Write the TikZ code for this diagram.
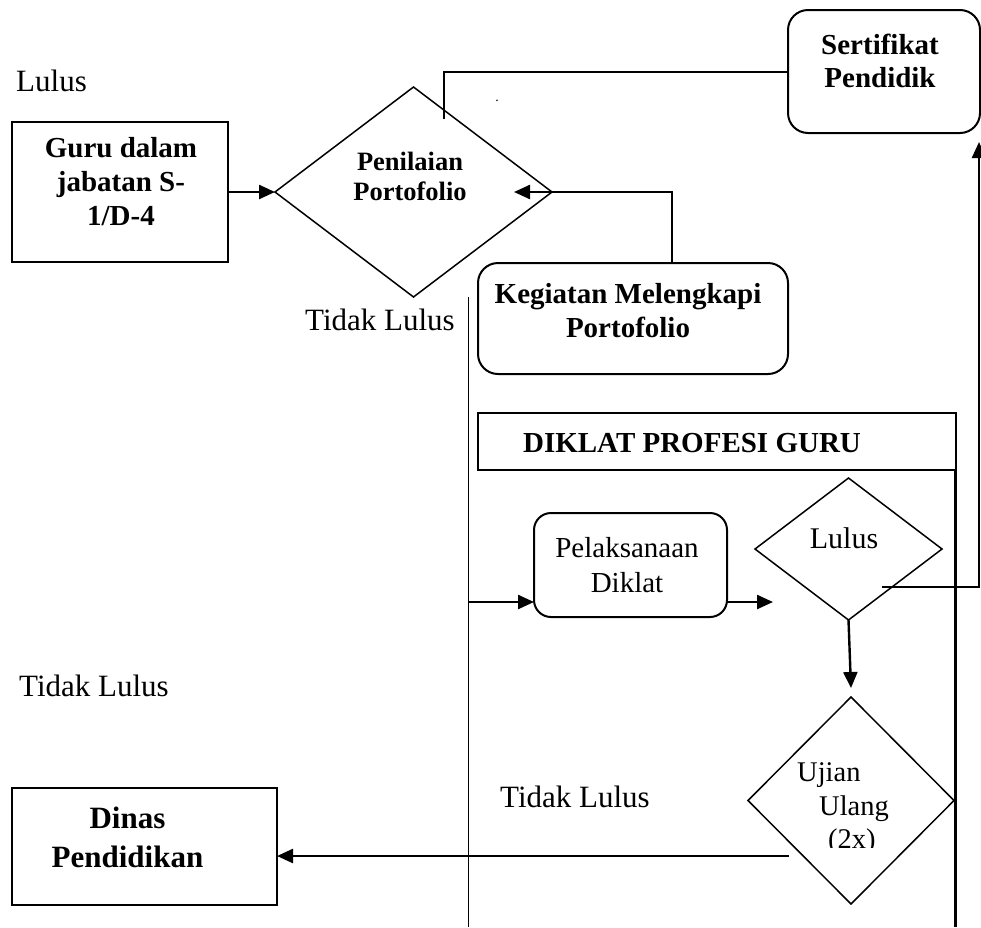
\documentclass[tikz,border=0pt]{standalone}
\usepackage{fontspec}
\setmainfont{Liberation Serif}
\usetikzlibrary{arrows.meta,shapes.geometric,calc}
\begin{document}
\begin{tikzpicture}[x=1pt,y=-1pt,
  box/.style={draw, line width=2pt, rectangle, inner sep=0pt, outer sep=0pt},
  rbox/.style={box, rounded corners=20pt},
  dia/.style={draw, diamond, line width=1.5pt, inner sep=0pt, outer sep=0pt},
  txt/.style={inner sep=0pt, align=center},
  lab/.style={inner sep=0pt, font=\fontsize{31}{36}\selectfont},
  conn/.style={line width=2pt},
  arr/.style={line width=2.4pt, -{Triangle[length=16pt,width=14pt]}},
  fB/.style={font=\fontsize{29}{34}\selectfont\bfseries},
  fR/.style={font=\fontsize{29}{35}\selectfont}
]
\useasboundingbox (0,0) rectangle (981,927);

% shapes
\node[box, minimum width=216pt, minimum height=140pt] (guru) at (120,192) {};
\node[txt, fB] (guruT) at (121,182) {Guru dalam\\jabatan S-\\1/D-4};

\node[dia, minimum width=277pt, minimum height=210pt] (pen) at (413.5,192) {};
\node[txt, font=\fontsize{26.5}{30}\selectfont\bfseries] (penT) at (410,176) {Penilaian\\Portofolio};

\node[rbox, minimum width=192pt, minimum height=123pt] (sert) at (884,71.5) {};
\node[txt, font=\fontsize{29}{33}\selectfont\bfseries] (sertT) at (880,61) {Sertifikat\\Pendidik};

\node[rbox, minimum width=310pt, minimum height=111pt] (keg) at (633,318.5) {};
\node[txt, fB] (kegT) at (628,311) {Kegiatan Melengkapi\\Portofolio};

\node[box, minimum width=477.5pt, minimum height=57pt] (dik) at (716.75,441.5) {};
\node[txt, fB, anchor=base] (dikT) at (692,452) {DIKLAT PROFESI GURU};

\node[rbox, rounded corners=17pt, minimum width=193pt, minimum height=104pt] (pel) at (630.5,565) {};
\node[txt, fR] (pelT) at (627,565) {Pelaksanaan\\Diklat};

\node[dia, minimum width=187pt, minimum height=142pt] (lul) at (848.5,549) {};
\node[txt, font=\fontsize{30}{35}\selectfont, anchor=base] (lulT) at (844,548) {Lulus};

\node[dia, minimum width=206pt, minimum height=207pt] (uj) at (851,800.5) {};
\begin{scope}
  \clip (780,740) rectangle (910,847.5);
  \node[txt, font=\fontsize{28.5}{33}\selectfont, anchor=base west] (uj1) at (797,781.7) {Ujian};
  \node[txt, font=\fontsize{28.5}{33}\selectfont, anchor=base west] (uj2) at (819,815) {Ulang};
  \node[txt, font=\fontsize{28.5}{33}\selectfont, anchor=base west] (uj3) at (828,848) {(2x)};
\end{scope}

\node[box, minimum width=265pt, minimum height=117pt] (din) at (144.5,846.5) {};
\node[txt, font=\fontsize{31}{39}\selectfont\bfseries] (dinT) at (127.5,837) {Dinas\\Pendidikan};

% labels
\node[lab, anchor=base west] (lab1) at (16,91.7) {Lulus};
\node[lab, anchor=base west] (lab2) at (305,330) {Tidak Lulus};
\node[lab, anchor=base west] (lab3) at (19,696) {Tidak Lulus};
\node[lab, anchor=base west] (lab4) at (500,807) {Tidak Lulus};
\node[txt, font=\fontsize{14}{14}\selectfont, anchor=base] (dot) at (497,101) {.};

% connectors
\draw[arr] (guru.east) -- (pen.west);

\coordinate (cS) at (444,119);
\draw[conn] (sert.west) -| (cS);

\coordinate (cK) at (514,192);
\draw[arr] ([xshift=39pt]keg.north) |- (cK);

\coordinate (LL1) at (468.5,297);
\coordinate (LL2) at (468.5,927);
\draw[conn, line width=1.6pt] (LL1) -- (LL2);

\coordinate (A1) at (468.5,602);
\draw[arr] (A1) -- (A1 -| pel.west);
\coordinate (A2) at (773,602);
\draw[arr] (A2 -| pel.east) -- (A2);

\coordinate (RL) at (955.5,927);
\draw[conn, line width=2.2pt] (dik.south east) -- (RL);

\coordinate (B1) at (882,587);
\coordinate (B2) at (979,142);
\draw[arr] (B1) -| (B2);

\coordinate (C1) at (851,688);
\draw[arr] (lul.south) -- (C1);

\coordinate (D1) at (789,856);
\draw[arr] (D1) -- (D1 -| din.east);
\end{tikzpicture}
\end{document}
